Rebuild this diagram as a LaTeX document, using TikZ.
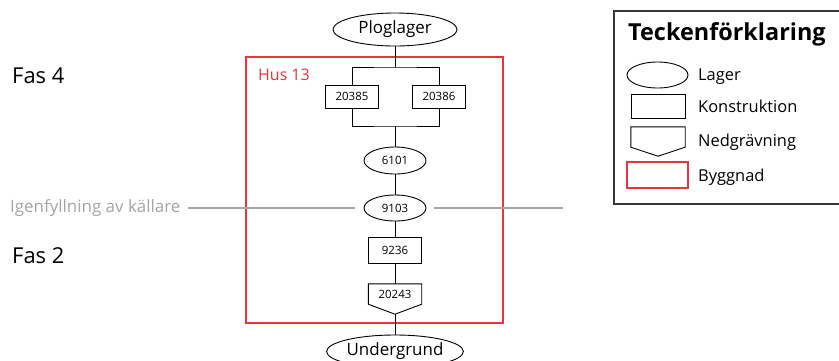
\documentclass[tikz,border=0pt]{standalone}
\usepackage{fontspec}
\setmainfont{Open Sans}
\usetikzlibrary{shapes.geometric,calc}
\definecolor{husred}{RGB}{232,52,62}
\definecolor{phasegrey}{RGB}{165,165,165}
\definecolor{framegrey}{RGB}{55,55,55}
\tikzset{
  link/.style={line width=0.9bp,black},
  lager/.style={draw,ellipse,inner sep=0pt,line width=0.9bp,font=\fontsize{11.5}{13}\selectfont},
  konstr/.style={draw,rectangle,inner sep=0pt,line width=0.9bp,minimum width=53bp,font=\fontsize{11.5}{13}\selectfont},
  nedg/.style={rectangle,inner sep=0pt,minimum width=53bp,minimum height=20bp,font=\fontsize{11.5}{13}\selectfont},
  nedgline/.style={line width=0.9bp,line join=miter},
  phase/.style={anchor=base west,inner sep=0pt,font=\fontsize{22}{26}\selectfont},
  legtext/.style={anchor=base west,inner sep=0pt,font=\fontsize{16.5}{20}\selectfont},
  fillline/.style={line width=1.2bp,phasegrey},
}
\begin{document}
\begin{tikzpicture}[x=1bp,y=-1bp]
\clip (0,0) rectangle (839,360);
\fill[white] (0,0) rectangle (839,360);

% building outline
\node[draw=husred,line width=1.3bp,minimum width=257bp,minimum height=266bp,inner sep=0pt] (hus) at (374.5,190) {};
\node[anchor=base west,inner sep=0pt,text=husred,font=\fontsize{16}{19}\selectfont] (huslabel) at (258,80) {Hus 13};

% phase labels
\node[phase] (fas4) at (12,83) {Fas 4};
\node[phase] (fas2) at (12,263) {Fas 2};
\node[legtext,text=phasegrey,font=\fontsize{17}{20}\selectfont] (igen) at (10,212) {Igenfyllning av källare};

% stratigraphic units
\node[lager,minimum width=124bp,minimum height=33bp,font=\fontsize{17}{20}\selectfont] (plog) at (395,29.5) {Ploglager};
\node[konstr,minimum height=23bp] (k20385) at (352,96.5) {20385};
\node[konstr,minimum height=23bp] (k20386) at (439,96.5) {20386};
\node[lager,minimum width=62bp,minimum height=27bp] (l6101) at (395,160.5) {6101};
\node[lager,minimum width=62bp,minimum height=26bp] (l9103) at (395,208) {9103};
\node[konstr,minimum height=26bp] (k9236) at (395,250) {9236};
\node[nedg] (n20243) at (395,294) {20243};
\coordinate (n20243tip) at ($(n20243.south)+(0,10)$);
\draw[nedgline] (n20243.north west) -- (n20243.north east) -- (n20243.south east)
  -- (n20243tip) -- (n20243.south west) -- cycle;
\node[lager,minimum width=124bp,minimum height=33bp,font=\fontsize{17}{20}\selectfont] (under) at (395,351.5) {Undergrund};

% connectors
\coordinate (topbar) at (395,67);
\coordinate (botbar) at (395,126);
\draw[link] (plog.south) -- (topbar);
\draw[link] (k20385.north) |- (topbar) -| (k20386.north);
\draw[link] (k20385.south) |- (botbar) -| (k20386.south);
\draw[link] (botbar) -- (l6101.north);
\draw[link] (l6101.south) -- (l9103.north);
\draw[link] (l9103.south) -- (k9236.north);
\draw[link] (k9236.south) -- (n20243.north);
\draw[link] (n20243tip) -- (under.north);

% backfill level line
\coordinate (fillL) at (188,208);
\coordinate (fillR) at (563,208);
\draw[fillline] (fillL) -- ($(l9103.west)+(-9,0)$);
\draw[fillline] ($(l9103.east)+(8,0)$) -- (fillR);

% legend
\node[draw=framegrey,line width=1.5bp,minimum width=256bp,minimum height=193bp,inner sep=0pt] (legend) at (742,107.5) {};
\node[anchor=base west,inner sep=0pt,font=\bfseries\fontsize{23.5}{27}\selectfont] (legtitle) at (628,40) {Teckenförklaring};
\node[lager,minimum width=61bp,minimum height=26bp] (legl) at (657.5,75) {};
\node[legtext] (legltext) at (698,80) {Lager};
\node[konstr,minimum width=54bp,minimum height=24bp] (legk) at (658,106) {};
\node[legtext] (legktext) at (698,112) {Konstruktion};
\node[nedg,minimum width=54bp] (legn) at (658,137) {};
\coordinate (legntip) at ($(legn.south)+(0,9)$);
\draw[nedgline] (legn.north west) -- (legn.north east) -- (legn.south east)
  -- (legntip) -- (legn.south west) -- cycle;
\node[legtext] (legntext) at (698,146) {Nedgrävning};
\node[draw=husred,line width=1.3bp,minimum width=61bp,minimum height=26bp,inner sep=0pt] (legb) at (657.5,175) {};
\node[legtext] (legbtext) at (698,181) {Byggnad};
\end{tikzpicture}
\end{document}
